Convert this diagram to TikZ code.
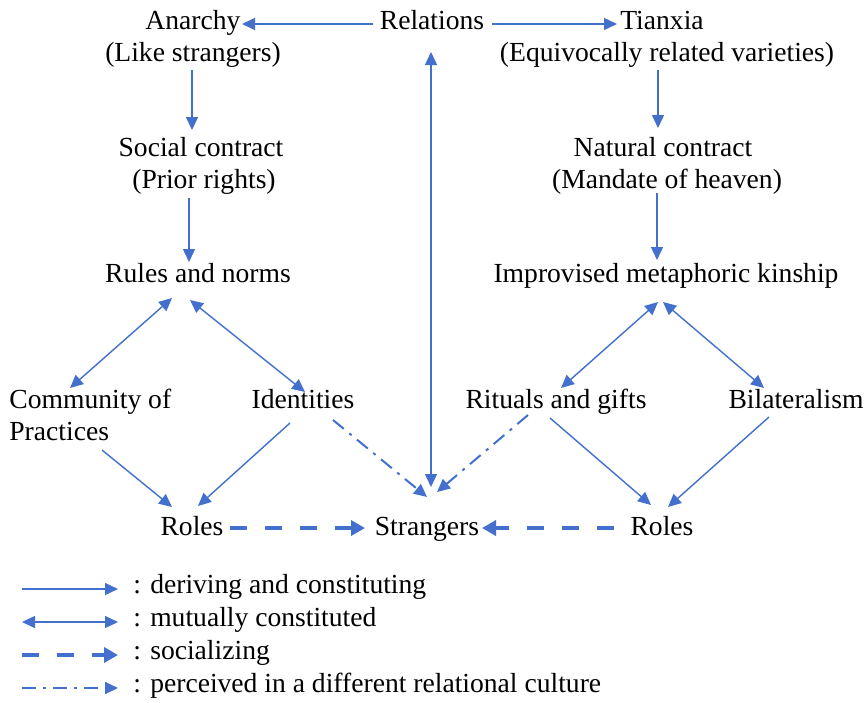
\documentclass[tikz,border=0pt]{standalone}
\usepackage{fontspec}
\setmainfont{Liberation Serif}
\usetikzlibrary{arrows.meta}
\definecolor{arrblue}{RGB}{66,112,204}
\begin{document}
\begin{tikzpicture}[x=0.5pt,y=-0.5pt,
  txt/.style={font=\fontsize{13.8}{16}\selectfont, inner sep=0pt, anchor=base, text=black},
  ltxt/.style={txt, anchor=base west},
  tipA/.tip={Triangle[length=6.5pt,width=6pt]},
  tipB/.tip={Triangle[length=7pt,width=7.5pt]},
  der/.style={draw=arrblue, line width=0.7pt, -tipA},
  mut/.style={draw=arrblue, line width=0.7pt, tipA-tipA},
  soc/.style={draw=arrblue, line width=2pt, dash pattern=on 8.5pt off 9pt, -tipB},
  per/.style={draw=arrblue, line width=1pt, dash pattern=on 7pt off 3.5pt on 1.5pt off 3.5pt, -tipA}
]
\useasboundingbox[fill=white] (0,0) rectangle (866,702);

% nodes
\node[txt] (an1) at (193,29) {Anarchy};
\node[txt] (an2) at (193,61) {(Like strangers)};
\node[txt] (rel) at (432,29) {Relations};
\node[txt] (ti1) at (662,29) {Tianxia};
\node[txt] (ti2) at (667,61) {(Equivocally related varieties)};
\node[txt] (sc1) at (201,156) {Social contract};
\node[txt] (sc2) at (204,188) {(Prior rights)};
\node[txt] (nc1) at (663,156) {Natural contract};
\node[txt] (nc2) at (667,188) {(Mandate of heaven)};
\node[txt] (rules) at (198,282) {Rules and norms};
\node[txt] (imp) at (666,282) {Improvised metaphoric kinship};
\node[ltxt] (comm1) at (9,408) {Community of};
\node[ltxt] (comm2) at (9,440) {Practices};
\node[txt] (id) at (303,408) {Identities};
\node[txt] (rit) at (556,408) {Rituals and gifts};
\node[txt] (bil) at (796,408) {Bilateralism};
\node[txt] (rolesL) at (192,535) {Roles};
\node[txt] (str) at (427,535) {Strangers};
\node[txt] (rolesR) at (662,535) {Roles};

% top connectors
\draw[der] ([shift={(-59,-5)}]rel.base) -- ([shift={(49,-5)}]an1.base);
\draw[der] ([shift={(60,-5)}]rel.base) -- ([shift={(-45,-5)}]ti1.base);
\draw[der] ([shift={(-1,9)}]an2.base) -- ([shift={(-9,-26)}]sc1.base);
\draw[der] ([shift={(-15,10)}]sc2.base) -- ([shift={(-9,-20)}]rules.base);
\draw[der] ([shift={(-9,9)}]ti2.base) -- ([shift={(-5,-28)}]nc1.base);
\draw[der] ([shift={(-10,5)}]nc2.base) -- ([shift={(-9,-22)}]imp.base);

% mutual
\draw[mut] ([shift={(-26,16)}]rules.base) -- ([shift={(61,-20)}]comm1.base west);
\draw[mut] ([shift={(-8,18)}]rules.base) -- ([shift={(2,-16)}]id.base);
\draw[mut] ([shift={(-8,20)}]imp.base) -- ([shift={(5,-20)}]rit.base);
\draw[mut] ([shift={(-3,20)}]imp.base) -- ([shift={(-32,-20)}]bil.base);
\draw[mut] ([shift={(-1,23)}]rel.base) -- ([shift={(4,-48)}]str.base);

% to roles
\draw[der] ([shift={(93,10)}]comm2.base west) -- ([shift={(-20,-28)}]rolesL.base);
\draw[der] ([shift={(-13,15)}]id.base) -- ([shift={(6,-29)}]rolesL.base);
\draw[der] ([shift={(-6,10)}]rit.base) -- ([shift={(-11,-30)}]rolesR.base);
\draw[der] ([shift={(-27,9)}]bil.base) -- ([shift={(6,-28)}]rolesR.base);

% perceived
\draw[per] ([shift={(30,12)}]id.base) -- ([shift={(0,-38)}]str.base);
\draw[per] ([shift={(-28,7)}]rit.base) -- ([shift={(10,-43)}]str.base);

% socializing
\draw[soc] ([shift={(38,-7)}]rolesL.base) -- ([shift={(-62,-7)}]str.base);
\draw[soc] ([shift={(-48,-7)}]rolesR.base) -- ([shift={(55,-7)}]str.base);

% legend
\node[ltxt] (lg1) at (133,593) {: deriving and constituting};
\node[ltxt] (lg2) at (133,626) {: mutually constituted};
\node[ltxt] (lg3) at (133,659) {: socializing};
\node[ltxt] (lg4) at (133,692) {: perceived in a different relational culture};
\coordinate (l1) at (22,589);
\coordinate (l2) at (22,622);
\coordinate (l3) at (22,655);
\coordinate (l4) at (22,688);
\draw[der] (l1) -- ([shift={(-15,-4)}]lg1.base west);
\draw[mut] (l2) -- ([shift={(-15,-4)}]lg2.base west);
\draw[soc] (l3) -- ([shift={(-15,-4)}]lg3.base west);
\draw[per] (l4) -- ([shift={(-15,-4)}]lg4.base west);
\end{tikzpicture}
\end{document}
